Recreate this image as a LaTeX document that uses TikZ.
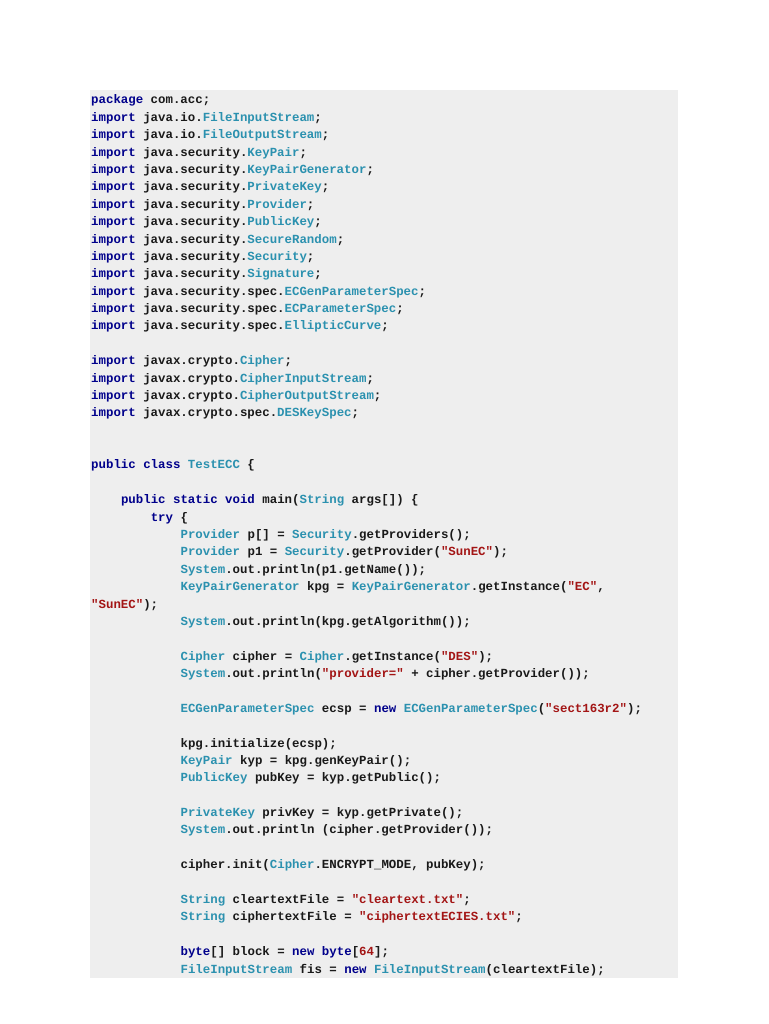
\documentclass[tikz,border=0pt]{standalone}
\usepackage{fontspec}
\setmonofont{Liberation Mono}
\definecolor{kwc}{HTML}{00008B}
\definecolor{tyc}{HTML}{2B91AF}
\definecolor{stc}{HTML}{A31515}
\definecolor{bgc}{HTML}{EEEEEE}
\newcommand{\kw}[1]{\textcolor{kwc}{#1}}
\newcommand{\ty}[1]{\textcolor{tyc}{#1}}
\newcommand{\st}[1]{\textcolor{stc}{#1}}
\tikzset{cl/.style={anchor=base west,inner sep=0pt,font=\ttfamily\bfseries\fontsize{12.4}{14}\selectfont,text=black!90}}
\newcommand{\codeline}[3]{\node[cl] (l#1) at ({91+#2*7.45},{104+#1*17.38}) {#3};}
\begin{document}
\begin{tikzpicture}[x=1pt,y=-1pt]
\useasboundingbox (0,0) rectangle (768,1024);
\fill[white] (0,0) rectangle (768,1024);
\fill[bgc] (90,90) rectangle (678,978);
\codeline{0}{0}{\kw{package} com.acc;}
\codeline{1}{0}{\kw{import} java.io.\ty{FileInputStream};}
\codeline{2}{0}{\kw{import} java.io.\ty{FileOutputStream};}
\codeline{3}{0}{\kw{import} java.security.\ty{KeyPair};}
\codeline{4}{0}{\kw{import} java.security.\ty{KeyPairGenerator};}
\codeline{5}{0}{\kw{import} java.security.\ty{PrivateKey};}
\codeline{6}{0}{\kw{import} java.security.\ty{Provider};}
\codeline{7}{0}{\kw{import} java.security.\ty{PublicKey};}
\codeline{8}{0}{\kw{import} java.security.\ty{SecureRandom};}
\codeline{9}{0}{\kw{import} java.security.\ty{Security};}
\codeline{10}{0}{\kw{import} java.security.\ty{Signature};}
\codeline{11}{0}{\kw{import} java.security.spec.\ty{ECGenParameterSpec};}
\codeline{12}{0}{\kw{import} java.security.spec.\ty{ECParameterSpec};}
\codeline{13}{0}{\kw{import} java.security.spec.\ty{EllipticCurve};}
\codeline{15}{0}{\kw{import} javax.crypto.\ty{Cipher};}
\codeline{16}{0}{\kw{import} javax.crypto.\ty{CipherInputStream};}
\codeline{17}{0}{\kw{import} javax.crypto.\ty{CipherOutputStream};}
\codeline{18}{0}{\kw{import} javax.crypto.spec.\ty{DESKeySpec};}
\codeline{21}{0}{\kw{public class} \ty{TestECC} \{}
\codeline{23}{4}{\kw{public static void} main(\ty{String} args[]) \{}
\codeline{24}{8}{\kw{try} \{}
\codeline{25}{12}{\ty{Provider} p[] = \ty{Security}.getProviders();}
\codeline{26}{12}{\ty{Provider} p1 = \ty{Security}.getProvider(\st{"SunEC"});}
\codeline{27}{12}{\ty{System}.out.println(p1.getName());}
\codeline{28}{12}{\ty{KeyPairGenerator} kpg = \ty{KeyPairGenerator}.getInstance(\st{"EC"},}
\codeline{29}{0}{\st{"SunEC"});}
\codeline{30}{12}{\ty{System}.out.println(kpg.getAlgorithm());}
\codeline{32}{12}{\ty{Cipher} cipher = \ty{Cipher}.getInstance(\st{"DES"});}
\codeline{33}{12}{\ty{System}.out.println(\st{"provider="} + cipher.getProvider());}
\codeline{35}{12}{\ty{ECGenParameterSpec} ecsp = \kw{new} \ty{ECGenParameterSpec}(\st{"sect163r2"});}
\codeline{37}{12}{kpg.initialize(ecsp);}
\codeline{38}{12}{\ty{KeyPair} kyp = kpg.genKeyPair();}
\codeline{39}{12}{\ty{PublicKey} pubKey = kyp.getPublic();}
\codeline{41}{12}{\ty{PrivateKey} privKey = kyp.getPrivate();}
\codeline{42}{12}{\ty{System}.out.println (cipher.getProvider());}
\codeline{44}{12}{cipher.init(\ty{Cipher}.ENCRYPT\_MODE, pubKey);}
\codeline{46}{12}{\ty{String} cleartextFile = \st{"cleartext.txt"};}
\codeline{47}{12}{\ty{String} ciphertextFile = \st{"ciphertextECIES.txt"};}
\codeline{49}{12}{\kw{byte}[] block = \kw{new} \kw{byte}[\st{64}];}
\codeline{50}{12}{\ty{FileInputStream} fis = \kw{new} \ty{FileInputStream}(cleartextFile);}
\end{tikzpicture}
\end{document}
